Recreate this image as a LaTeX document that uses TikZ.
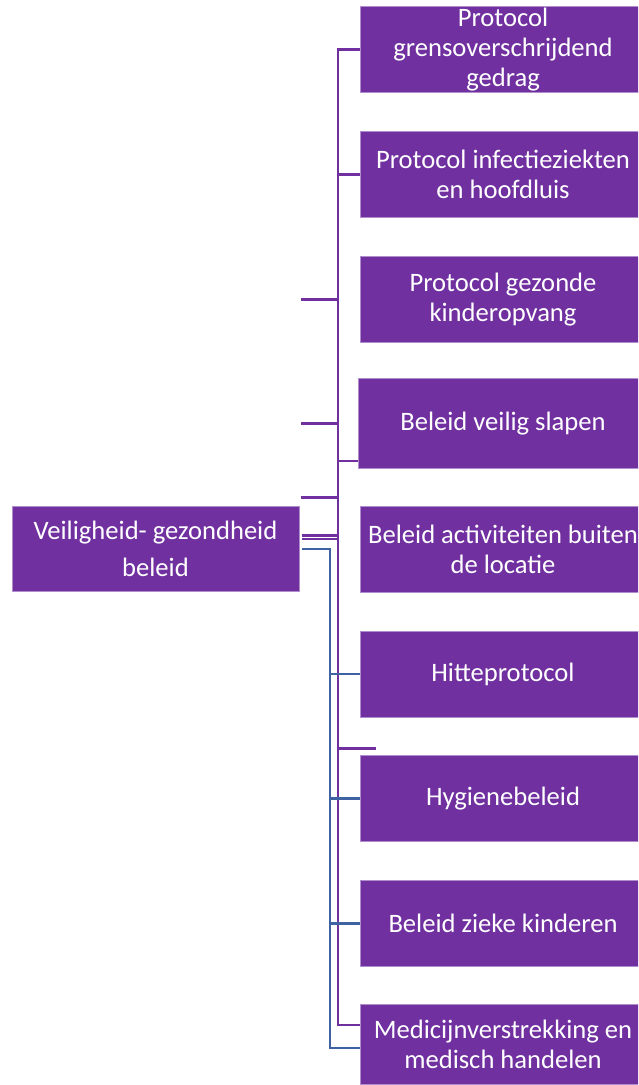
\documentclass[tikz,border=0pt]{standalone}
\usepackage{fontspec}
\setmainfont{Carlito}
\usetikzlibrary{calc}

\definecolor{boxpurple}{HTML}{7030A0}
\definecolor{linkblue}{HTML}{3F62A2}

\tikzset{
  item/.style={rectangle, fill=boxpurple, draw=boxpurple!55!white, line width=0.8pt,
    text=white, minimum width=286pt, minimum height=86pt, inner sep=0pt,
    align=center, font=\fontsize{26.6}{30}\selectfont},
  root/.style={item, minimum width=287pt, minimum height=85pt,
    font=\fontsize{26.6}{37}\selectfont},
  plink/.style={draw=boxpurple, line width=2.9pt},
  blink/.style={draw=linkblue, line width=2.9pt},
}

\begin{document}
\begin{tikzpicture}[x=1pt,y=-1pt]

\clip (0,0) rectangle (638,1085);

% Boxes

\node[root] (root) at (155.5,548.5) {Veiligheid- gezondheid\\beleid};

\node[item] (p1) at (503,49.5) {Protocol\\grensoverschrijdend\\gedrag};
\node[item] (p2) at (503,174.5) {Protocol infectieziekten\\en hoofdluis};
\node[item] (p3) at (503,299.5) {Protocol gezonde\\kinderopvang};
\node[item, minimum height=90pt, minimum width=290pt] (p4) at (503,423.5) {Beleid veilig slapen};
\node[item] (p5) at (503,549) {Beleid activiteiten buiten\\de locatie};
\node[item] (p6) at (503,674) {Hitteprotocol};
\node[item] (p7) at (503,798.5) {Hygienebeleid};
\node[item] (p8) at (503,923.5) {Beleid zieke kinderen};
\node[item, minimum height=80pt] (p9) at (503,1044) {Medicijnverstrekking en\\medisch handelen};

% Trunks

\coordinate (ptrunk) at (338,0);
\coordinate (btrunk) at (330,0);
\coordinate (stub) at (301,0);
\coordinate (p4low) at ($(p4.west)+(0,37.5)$);
\coordinate (p7top) at ($(p7.north west)+(16,-7)$);
\coordinate (p9in) at ($(p9.west)+(0,-19)$);
\coordinate (b9in) at ($(p9.west)+(0,4)$);
\coordinate (rtop) at ($(root.north east)+(2,-8)$);
\coordinate (rdbl1) at ($(root.east)+(3,-13)$);
\coordinate (rdbl2) at ($(root.east)+(3,-9.5)$);
\coordinate (rblue) at ($(root.east)+(3,0.5)$);

% Purple links

\draw[plink] (p1.west) -| (ptrunk |- p9in) -- (p9in);
\draw[plink] (ptrunk |- p2.west) -- (p2.west);
\draw[plink] (ptrunk |- p4low) -- (p4low);
\draw[plink] (ptrunk |- p7top) -- (p7top);
\draw[plink] (stub |- p3.west) -- (ptrunk |- p3.west);
\draw[plink] (stub |- p4.west) -- (ptrunk |- p4.west);
\draw[plink] (stub |- rtop) -- (ptrunk |- rtop);
\draw[plink, line width=2.2pt] (rdbl1) -- (ptrunk |- rdbl1);
\draw[plink, line width=2.2pt] (rdbl2) -- (ptrunk |- rdbl2);

% Blue links

\draw[blink] (rblue) -| (btrunk |- b9in) -- (b9in);
\draw[blink] (btrunk |- p6.west) -- (p6.west);
\draw[blink] (btrunk |- p7.west) -- (p7.west);
\draw[blink] (btrunk |- p8.west) -- (p8.west);

\end{tikzpicture}
\end{document}
